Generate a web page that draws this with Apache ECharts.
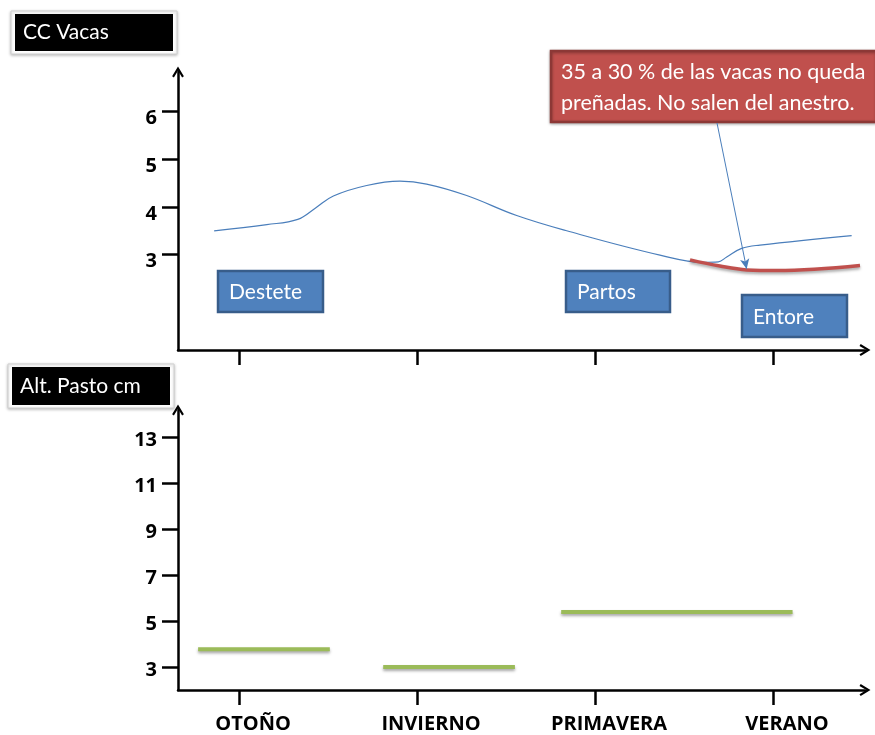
<!DOCTYPE html>
<html>
<head>
<meta charset="utf-8">
<script src="https://cdn.jsdelivr.net/npm/echarts@6/dist/echarts.min.js"></script>
<style>html,body{margin:0;padding:0;background:#fff}#c{width:875px;height:735px}</style>
</head>
<body>
<div id="c"></div>
<script>
// ---- data ----
const seasons = ['OTOÑO', 'INVIERNO', 'PRIMAVERA', 'VERANO'];
const seasonPos = [0, 1, 2, 3];
const ccTicks = [3, 4, 5, 6];
const pastoTicks = [3, 5, 7, 9, 11, 13];

// CC Vacas (blue curve), x in season units (0 = OTOÑO)
const ccBlueX = [-0.14, 0.156, 0.33, 0.43, 0.53, 0.717, 0.904, 1.054, 1.279, 1.56, 1.841, 2.365, 2.608, 2.693, 2.74, 2.824, 2.927, 3.442];
const ccBlueY = [3.50, 3.63, 3.74, 3.98, 4.23, 4.45, 4.54, 4.48, 4.24, 3.82, 3.50, 2.99, 2.84, 2.85, 2.95, 3.13, 3.20, 3.40];
// CC Vacas (red curve, vacas en anestro)
const ccRedX = [2.534, 2.702, 2.852, 3.021, 3.489];
const ccRedY = [2.89, 2.76, 2.68, 2.665, 2.77];

// Alt. Pasto cm (segments)
const pastoStart = [-0.23, 0.81, 1.81];
const pastoEnd = [0.51, 1.55, 3.11];
const pastoValue = [3.77, 3.0, 5.39];

// ---- chart ----
const xMin = -0.343, xMax = 3.517;
const arrowPath = 'path://M0,10 L6,0 L12,10 L10.2,11.2 L6,4.2 L1.8,11.2 Z';
const FONT = 'Lato';
const AXFONT = '"Open Sans"';

function xAxisCfg(gi, showLabels) {
  return {
    type: 'value', gridIndex: gi, min: xMin, max: xMax,
    splitLine: { show: false },
    axisLine: { onZero: false, lineStyle: { color: '#000', width: 2.5 }, symbol: ['none', arrowPath], symbolSize: [12, 11] },
    axisTick: { customValues: seasonPos, length: 15, lineStyle: { color: '#000', width: 2.5 } },
    axisLabel: showLabels ? {
      customValues: seasonPos, formatter: v => seasons[Math.round(v)],
      color: '#000', fontWeight: 'bold', fontSize: 20, fontFamily: AXFONT, margin: 24, padding: [0, 0, 0, 28]
    } : { show: false }
  };
}
function yAxisCfg(gi, min, max, ticks, lh) {
  return {
    type: 'value', gridIndex: gi, min: min, max: max,
    splitLine: { show: false },
    axisLine: { onZero: false, lineStyle: { color: '#000', width: 2.5 }, symbol: ['none', arrowPath], symbolSize: [12, 11] },
    axisTick: { customValues: ticks, length: 16, lineStyle: { color: '#000', width: 2.5 } },
    axisLabel: { customValues: ticks, color: '#000', fontWeight: 'bold', fontSize: 20, fontFamily: AXFONT, margin: 21,
      verticalAlign: 'top', lineHeight: lh }
  };
}

const shadow = { shadowColor: 'rgba(0,0,0,0.35)', shadowBlur: 3, shadowOffsetY: 2 };

const series = [
  {
    type: 'line', xAxisIndex: 0, yAxisIndex: 0, smooth: 0.4, symbol: 'none',
    data: ccBlueX.map((x, i) => [x, ccBlueY[i]]),
    lineStyle: { color: '#4a7ebb', width: 1.2 }, silent: true
  },
  {
    type: 'line', xAxisIndex: 0, yAxisIndex: 0, smooth: 0.4, symbol: 'none',
    data: ccRedX.map((x, i) => [x, ccRedY[i]]),
    lineStyle: Object.assign({ color: '#c0504d', width: 3.5 }, shadow), silent: true,
    markLine: {
      silent: true, symbol: ['none', 'arrow'], symbolSize: [7, 10],
      label: { show: false },
      lineStyle: { color: '#4a7ebb', width: 1, type: 'solid' },
      data: [[{ x: 717, y: 123 }, { coord: [ccRedX[2], ccRedY[2] + 0.02] }]]
    }
  }
];
pastoValue.forEach((v, i) => {
  series.push({
    type: 'line', xAxisIndex: 1, yAxisIndex: 1, symbol: 'none',
    data: [[pastoStart[i], v], [pastoEnd[i], v]],
    lineStyle: Object.assign({ color: '#9bbb59', width: 4 }, shadow), silent: true
  });
});

function darkBox(x, y, w, h, text) {
  return [
    { type: 'rect', shape: { x: x - 4, y: y - 3, width: w + 8, height: h + 6 },
      style: { fill: '#fff', stroke: '#d0d0d0', lineWidth: 1, shadowColor: 'rgba(0,0,0,0.25)', shadowBlur: 3, shadowOffsetY: 1 } },
    { type: 'rect', shape: { x: x, y: y, width: w, height: h }, style: { fill: '#000' } },
    { type: 'text', x: x + 8, y: y + h / 2, style: { text: text, fill: '#fff', font: '21px ' + FONT, verticalAlign: 'middle' } }
  ];
}
function blueBox(x, y, w, h, text) {
  return [
    { type: 'rect', shape: { x: x, y: y, width: w, height: h },
      style: { fill: '#4f81bd', stroke: '#385d8a', lineWidth: 2.5 } },
    { type: 'text', x: x + 11, y: y + h / 2 + 1, style: { text: text, fill: '#fff', font: '21px ' + FONT, verticalAlign: 'middle' } }
  ];
}

const graphics = [].concat(
  darkBox(15, 14, 158, 37, 'CC Vacas'),
  darkBox(12, 367, 158, 38, 'Alt. Pasto cm'),
  blueBox(218, 271, 105, 41, 'Destete'),
  blueBox(566, 271, 104, 41, 'Partos'),
  blueBox(742, 295, 105, 42, 'Entore'),
  [
    { type: 'rect', shape: { x: 551, y: 51, width: 326, height: 71 },
      style: { fill: '#c0504d', stroke: '#8c3836', lineWidth: 2.5, shadowColor: 'rgba(0,0,0,0.3)', shadowBlur: 3, shadowOffsetY: 1 } },
    { type: 'text', x: 561, y: 72, style: { text: '35 a 30 % de las vacas no queda', fill: '#fff', font: '21.5px ' + FONT, verticalAlign: 'middle' } },
    { type: 'text', x: 561, y: 103, style: { text: 'preñadas. No salen del anestro.', fill: '#fff', font: '21.5px ' + FONT, verticalAlign: 'middle' } }
  ]
);

const chart = echarts.init(document.getElementById('c'), null, { renderer: 'canvas' });
chart.setOption({
  animation: false,
  backgroundColor: '#fff',
  grid: [
    { left: 178, top: 72, width: 687, height: 278 },
    { left: 178, top: 410, width: 687, height: 280 }
  ],
  xAxis: [xAxisCfg(0, false), xAxisCfg(1, true)],
  yAxis: [yAxisCfg(0, 1, 6.83, ccTicks, 14), yAxisCfg(1, 2, 14.17, pastoTicks, 6)],
  series: series,
  graphic: graphics
});
</script>
</body>
</html>
